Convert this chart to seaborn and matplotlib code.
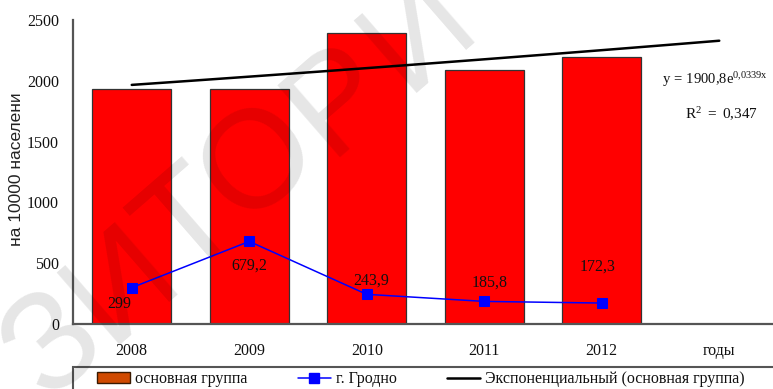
import numpy as np
import pandas as pd
import matplotlib
matplotlib.use("Agg")
import matplotlib.pyplot as plt
import seaborn as sns
from matplotlib.patches import Rectangle, Patch
from matplotlib.lines import Line2D

# --- data ---
years = ["2008", "2009", "2010", "2011", "2012"]
x_labels = years + ["годы"]
main_group = [1935, 1935, 2395, 2090, 2195]
grodno = [299, 679.2, 243.9, 185.8, 172.3]
grodno_labels = ["299", "679,2", "243,9", "185,8", "172,3"]
trend_a = 1900.8      # y = a * e^(b*x), x = 1..6
trend_b = 0.0339
trend_a_text = "1900,8"
trend_b_text = "0,0339x"
trend_r2 = "0,347"
y_ticks = [0, 500, 1000, 1500, 2000, 2500]
series_names = ["основная группа", "г. Гродно", "Экспоненциальный (основная группа)"]

sns.set_theme(style="white")
plt.rcParams["font.family"] = ["Liberation Serif", "DejaVu Serif"]
plt.rcParams["mathtext.fontset"] = "custom"
plt.rcParams["mathtext.rm"] = "Liberation Serif"
plt.rcParams["mathtext.it"] = "Liberation Serif"

TXT = "#111111"
AX = "#555555"
W, H = 773, 389
fig = plt.figure(figsize=(W / 100, H / 100), dpi=100)
ax = fig.add_axes([73 / W, 65 / H, 705 / W, 304 / H])

df = pd.DataFrame({"year": years, "value": main_group})
sns.barplot(data=df, x="year", y="value", order=x_labels, color="#ff0000",
            saturation=1, width=0.67, edgecolor="#333333", linewidth=0.9, ax=ax)

pos = np.arange(len(years))
sns.lineplot(x=pos, y=grodno, color="#0000ff", linewidth=1.1, marker="s",
             markersize=7, markeredgecolor="#0000ff", ax=ax, zorder=4)

# exponential trend over periods 1..6
tx = np.linspace(1, len(x_labels), 60)
sns.lineplot(x=tx - 1, y=trend_a * np.exp(trend_b * tx), color="black",
             linewidth=1.8, ax=ax, zorder=5)

# value labels for the Grodno series
offsets = [(-12, -16), (0, -24), (4, 14), (5, 19), (-4, 36)]
for i, (v, lab) in enumerate(zip(grodno, grodno_labels)):
    ax.annotate(lab, (pos[i], v), textcoords="offset pixels", xytext=offsets[i],
                ha="center", va="center", fontsize=11.5, color=TXT, zorder=6)

ax.set_xlim(-0.5, len(x_labels) - 0.5)
ax.set_ylim(0, 2500)
ax.set_yticks(y_ticks)
ax.set_yticklabels([str(t) for t in y_ticks])
ax.set_xticks(np.arange(len(x_labels) + 1) - 0.5)
ax.set_xticklabels([])
ax.set_xticks(np.arange(len(x_labels)), minor=True)
ax.set_xticklabels(x_labels, minor=True)
ax.tick_params(axis="x", which="minor", length=0, pad=14, labelsize=11.5, labelcolor=TXT)
ax.tick_params(axis="x", which="major", length=6, width=1.3, color=AX, direction="out")
ax.tick_params(axis="y", length=6, width=1.3, color=AX, direction="out",
               pad=4, labelsize=11.5, labelcolor=TXT)
ax.set_xlabel("")
ax.set_ylabel("на 10000 населени", fontsize=12.5, color="#222222",
              family=["Liberation Sans", "DejaVu Sans"])
ax.yaxis.set_label_coords((24 - 73) / 705, 0.51)
for s in ["top", "right"]:
    ax.spines[s].set_visible(False)
for s in ["left", "bottom"]:
    ax.spines[s].set_color(AX)
    ax.spines[s].set_linewidth(1.6)

# trend equation
fig.text(662 / W, 1 - 80 / H,
         r"$\mathregular{y\,=\," + trend_a_text.replace(",", "{,}") + "e^{"
         + trend_b_text.replace(",", "{,}") + "}}$",
         fontsize=10.5, color=TXT, ha="left", va="center")
fig.text(685 / W, 1 - 114 / H,
         r"$\mathregular{R^{2}\ =\ " + trend_r2.replace(",", "{,}") + "}$",
         fontsize=11, color=TXT, ha="left", va="center")

# legend: frame plus one entry per series at fixed positions
fig.patches.append(Rectangle((73 / W, -0.02), 0.95, (389 - 367) / H + 0.02,
                             transform=fig.transFigure, fill=False,
                             edgecolor=AX, linewidth=1.5))
handles = [
    Patch(facecolor="#d04a00", edgecolor="#3a1a00", linewidth=1.0),
    Line2D([0], [0], color="#0000ff", lw=1.1, marker="s", markersize=7),
    Line2D([0], [0], color="black", lw=1.8),
]
for h, lab, x0 in zip(handles, series_names, [97, 298, 447]):
    fig.legend([h], [lab], loc="center left", bbox_to_anchor=(x0 / W, 1 - 379 / H),
               frameon=False, fontsize=11.5, handlelength=2.05, handleheight=0.65,
               handletextpad=0.3, borderaxespad=0, borderpad=0, labelcolor=TXT)

# background watermark, set letter by letter along a diagonal
wm_letters = "ЗИТОРИ"
wm_centers = [(45, 335), (113, 274), (181, 214), (250, 153), (330, 88), (410, 22)]
wm_angle = 41
wm_size = 100
th = np.deg2rad(wm_angle)
half_cap = 0.729 * wm_size * 100 / 72 / 2
for ch, (cx, cy) in zip(wm_letters, wm_centers):
    bx = cx + half_cap * np.sin(th)
    by = cy + half_cap * np.cos(th)
    fig.text(bx / W, 1 - by / H, ch, rotation=wm_angle, fontsize=wm_size,
             family="Liberation Sans", color="black", alpha=0.1,
             ha="center", va="baseline", rotation_mode="anchor", zorder=10)

fig.savefig("out.png", dpi=100)
